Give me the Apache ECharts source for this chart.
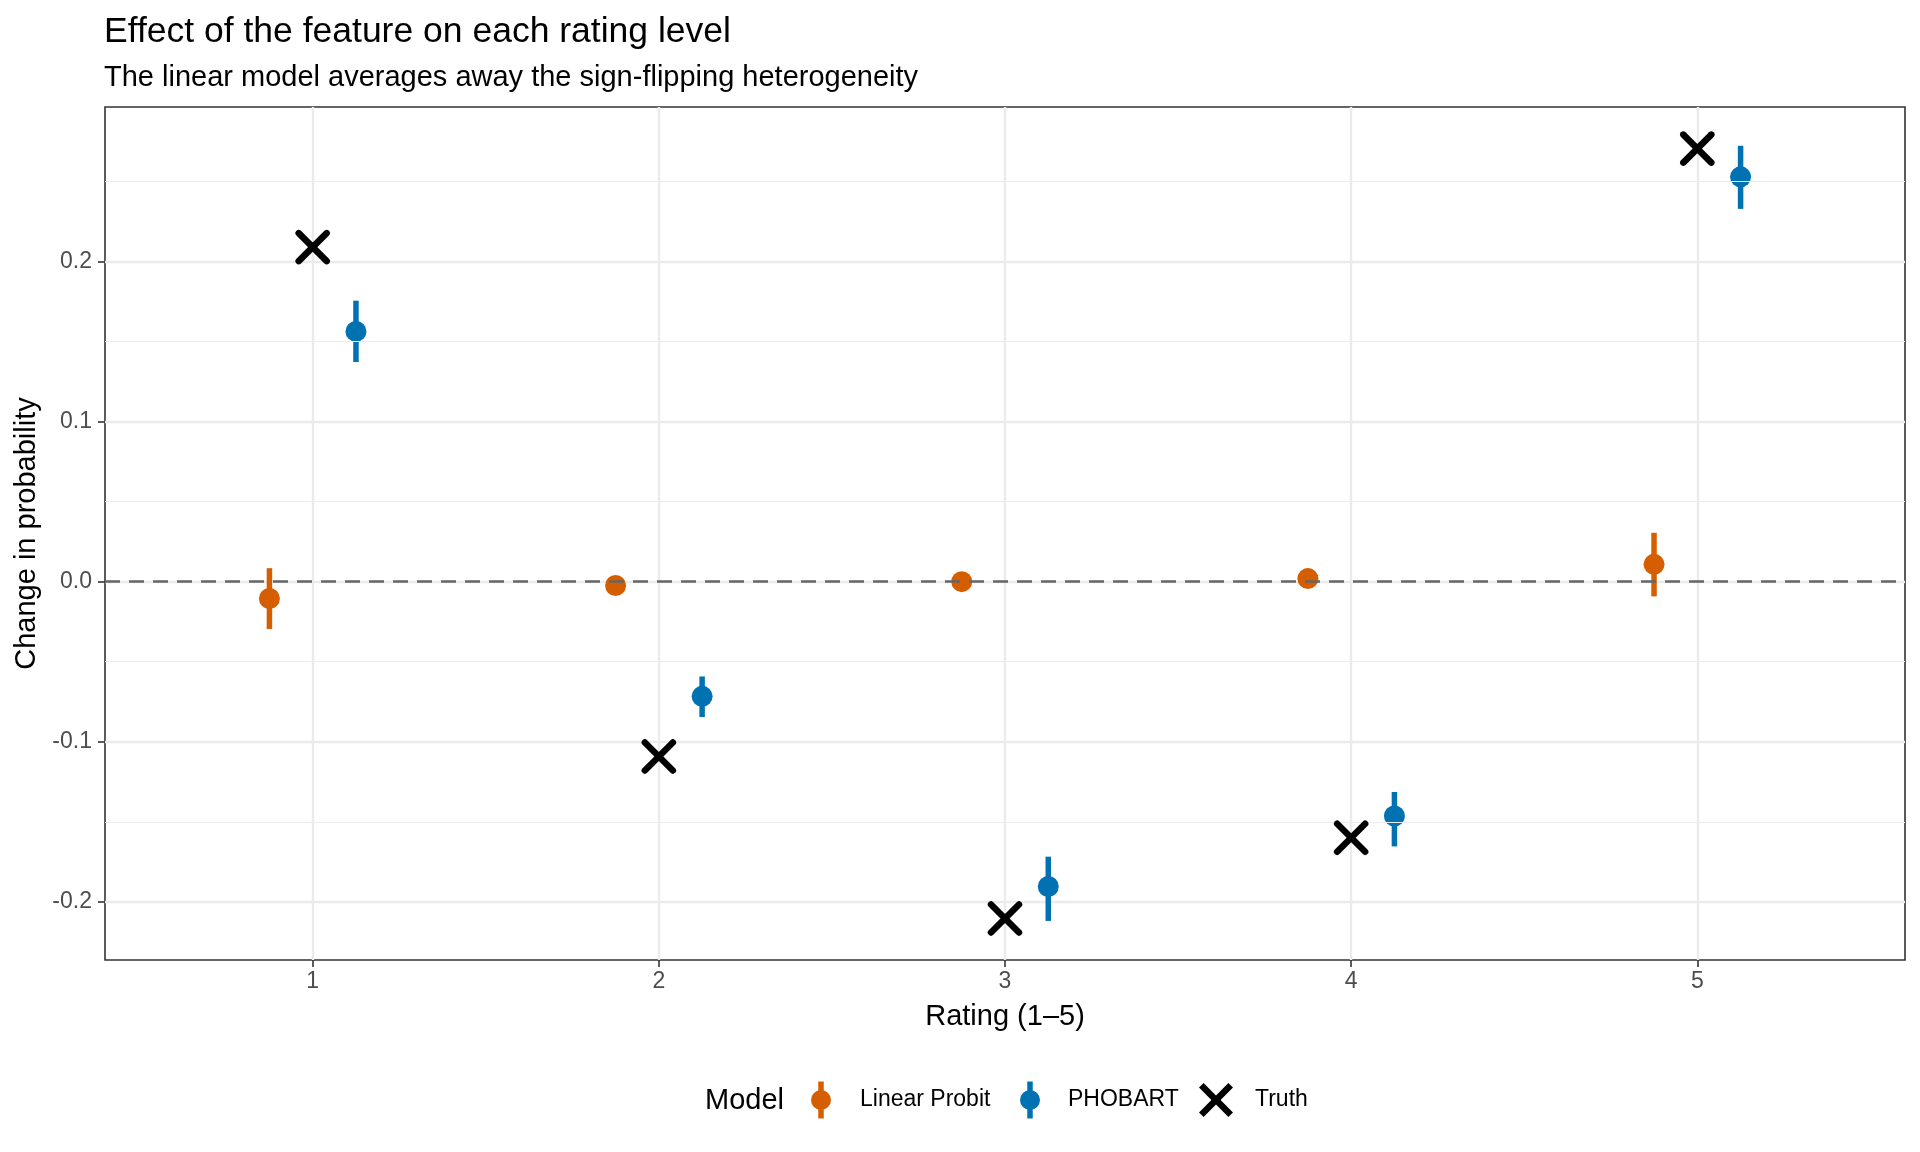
<!DOCTYPE html>
<html>
<head>
<meta charset="utf-8">
<script src="https://cdn.jsdelivr.net/npm/echarts@6/dist/echarts.min.js"></script>
<style>
html,body{margin:0;padding:0;background:#fff;}
#chart{width:1920px;height:1152px;}
</style>
</head>
<body>
<div id="chart"></div>
<script>
// ---- data ----
const ratings = [1, 2, 3, 4, 5];
const linearEst  = [-0.0105, -0.0024, 0.0000, 0.0019, 0.0108];
const linearLow  = [-0.0296, -0.0054, -0.0030, -0.0011, -0.0092];
const linearHigh = [0.0084, 0.0006, 0.0030, 0.0049, 0.0305];
const phobartEst  = [0.1562, -0.0716, -0.1903, -0.1463, 0.2527];
const phobartLow  = [0.1371, -0.0845, -0.2118, -0.1653, 0.2327];
const phobartHigh = [0.1754, -0.0592, -0.1717, -0.1313, 0.2721];
const truthVals = [0.2088, -0.1092, -0.2103, -0.1599, 0.2703];
const xTicks = [1, 2, 3, 4, 5];
const yTicks = [-0.2, -0.1, 0.0, 0.1, 0.2];
const yMinorTicks = [-0.15, -0.05, 0.05, 0.15, 0.25];
const modelNames = ['Linear Probit', 'PHOBART', 'Truth'];
const titleText = 'Effect of the feature on each rating level';
const subtitleText = 'The linear model averages away the sign-flipping heterogeneity';
const xName = 'Rating (1–5)';
const yName = 'Change in probability';
const legendTitle = 'Model';

// ---- styling ----
const DODGE = 0.125;
const COL_LP = '#D55E00';
const COL_PH = '#0072B2';
const FONT = '"Liberation Sans", Arial, Helvetica, sans-serif';

const lpPts = ratings.map((r, i) => [r - DODGE, linearEst[i]]);
const lpBars = ratings.map((r, i) => [r - DODGE, linearLow[i], linearHigh[i]]);
const phPts = ratings.map((r, i) => [r + DODGE, phobartEst[i]]);
const phBars = ratings.map((r, i) => [r + DODGE, phobartLow[i], phobartHigh[i]]);
const truthPts = ratings.map((r, i) => [r, truthVals[i]]);

function barRenderer(color) {
  return function (params, api) {
    const x = api.value(0);
    const p1 = api.coord([x, api.value(1)]);
    const p2 = api.coord([x, api.value(2)]);
    return {
      type: 'line',
      shape: {x1: p1[0], y1: p1[1], x2: p2[0], y2: p2[1]},
      style: {stroke: color, lineWidth: 5.5, lineCap: 'butt'}
    };
  };
}
function crossRenderer(params, api) {
  const c = api.coord([api.value(0), api.value(1)]);
  const h = 14;
  const st = {stroke: '#000', lineWidth: 6.5, lineCap: 'round'};
  return {
    type: 'group',
    children: [
      {type: 'line', shape: {x1: c[0]-h, y1: c[1]-h, x2: c[0]+h, y2: c[1]+h}, style: st},
      {type: 'line', shape: {x1: c[0]-h, y1: c[1]+h, x2: c[0]+h, y2: c[1]-h}, style: st}
    ]
  };
}

const pointKey = 'path://M7.25,0 h5.5 v37 h-5.5 z M0,18.5 a10,10 0 1,1 20,0 a10,10 0 1,1 -20,0 z';
const crossKey = 'path://M0,4.6 L4.6,0 L17,12.4 L29.4,0 L34,4.6 L21.6,17 L34,29.4 L29.4,34 L17,21.6 L4.6,34 L0,29.4 L12.4,17 Z';

function legendFor(name, left, icon, color, w, h, gap) {
  return {
    left: left, top: 1100 - h / 2,
    orient: 'horizontal',
    itemWidth: w, itemHeight: h,
    selectedMode: false,
    padding: 0,
    textStyle: {fontSize: 23, color: '#000', fontFamily: FONT, padding: [0, 0, 0, gap]},
    data: [{name: name, icon: icon, itemStyle: {color: color, borderWidth: 0}}]
  };
}

const chart = echarts.init(document.getElementById('chart'), null, {renderer: 'canvas'});
chart.setOption({
  animation: false,
  backgroundColor: '#fff',
  textStyle: {fontFamily: FONT},
  title: [
    {text: titleText, left: 104, top: 14, padding: 0,
     textStyle: {fontSize: 35.5, fontWeight: 'normal', color: '#000', fontFamily: FONT}},
    {text: subtitleText, left: 104, top: 63, padding: 0,
     textStyle: {fontSize: 29, fontWeight: 'normal', color: '#000', fontFamily: FONT}}
  ],
  legend: [
    legendFor(modelNames[0], 811, pointKey, COL_LP, 20, 37, 24),
    legendFor(modelNames[1], 1020, pointKey, COL_PH, 20, 37, 23),
    legendFor(modelNames[2], 1199, crossKey, '#000', 34, 34, 17)
  ],
  graphic: [{
    type: 'text', left: 705, top: 1100 - 14,
    style: {text: legendTitle, fontSize: 29, fill: '#000', font: '29px ' + FONT}
  }],
  grid: {
    left: 105, right: 15, top: 107, bottom: 192,
    show: true, borderColor: '#333333', borderWidth: 1.6, backgroundColor: '#fff',
    containLabel: false
  },
  xAxis: {
    type: 'value', min: 0.4, max: 5.6,
    name: xName, nameLocation: 'middle', nameGap: 42,
    nameTextStyle: {fontSize: 29, color: '#000', fontFamily: FONT},
    axisLine: {show: false, onZero: false},
    axisTick: {show: true, length: 7, customValues: xTicks, lineStyle: {color: '#333333', width: 1.6}},
    axisLabel: {customValues: xTicks, margin: 10, fontSize: 23, color: '#4D4D4D', fontFamily: FONT,
                formatter: v => String(v)},
    splitLine: {show: true, lineStyle: {color: '#EBEBEB', width: 2.4}}
  },
  yAxis: {
    type: 'value', min: -0.2362, max: 0.2963,
    name: yName, nameLocation: 'middle', nameGap: 64,
    nameTextStyle: {fontSize: 29, color: '#000', fontFamily: FONT},
    axisLine: {show: false, onZero: false},
    axisTick: {show: true, length: 7, customValues: yTicks, lineStyle: {color: '#333333', width: 1.6}},
    axisLabel: {customValues: yTicks, margin: 13, fontSize: 23, color: '#4D4D4D', fontFamily: FONT,
                formatter: v => v.toFixed(1)},
    splitLine: {show: true, lineStyle: {color: '#EBEBEB', width: 2.4}}
  },
  series: [
    {
      name: 'minor-grid', type: 'scatter', data: [], z: 1, silent: true,
      markLine: {
        silent: true, symbol: 'none', label: {show: false},
        lineStyle: {color: '#EBEBEB', width: 1.2, type: 'solid'},
        data: yMinorTicks.map(v => ({yAxis: v}))
      }
    },
    {
      name: 'zero-line', type: 'scatter', data: [], z: 1.5, silent: true,
      markLine: {
        silent: true, symbol: 'none', label: {show: false},
        lineStyle: {color: '#666666', width: 2.6, type: [15, 9]},
        data: [{yAxis: 0}]
      }
    },
    {name: modelNames[0], type: 'custom', data: lpBars, renderItem: barRenderer(COL_LP),
     encode: {x: 0, y: [1, 2]}, itemStyle: {color: COL_LP}, z: 3, silent: true},
    {name: modelNames[0], type: 'scatter', data: lpPts, symbol: 'circle', symbolSize: 21,
     itemStyle: {color: COL_LP, opacity: 1}, z: 4, silent: true},
    {name: modelNames[1], type: 'custom', data: phBars, renderItem: barRenderer(COL_PH),
     encode: {x: 0, y: [1, 2]}, itemStyle: {color: COL_PH}, z: 3, silent: true},
    {name: modelNames[1], type: 'scatter', data: phPts, symbol: 'circle', symbolSize: 21,
     itemStyle: {color: COL_PH, opacity: 1}, z: 4, silent: true},
    {name: modelNames[2], type: 'custom', data: truthPts, renderItem: crossRenderer,
     encode: {x: 0, y: 1}, itemStyle: {color: '#000'}, z: 5, silent: true}
  ]
});
</script>
</body>
</html>
